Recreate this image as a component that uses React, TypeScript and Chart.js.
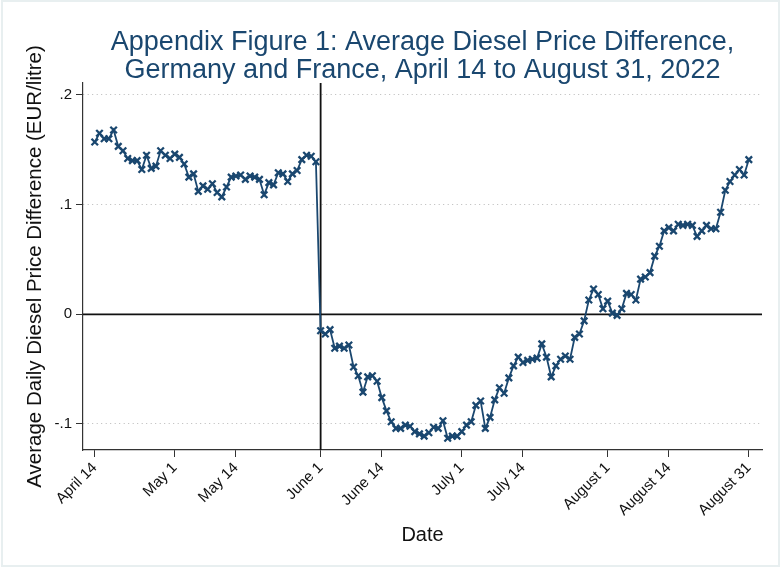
import React, { useEffect, useRef } from "react";
import { Chart, registerables } from "chart.js";

Chart.register(...registerables);

// Daily series starting April 14, 2022 (index 0) through August 31, 2022 (index 139)
const startDate = "April 14, 2022";
const priceDiff: number[] = [
  // April 14 - April 30
  0.157, 0.165, 0.160, 0.160, 0.168, 0.153, 0.149, 0.142, 0.140, 0.140,
  0.132, 0.145, 0.133, 0.135, 0.149, 0.145, 0.142,
  // May
  0.146, 0.143, 0.137, 0.125, 0.128, 0.112, 0.117, 0.114, 0.119, 0.111,
  0.107, 0.116, 0.125, 0.126, 0.127, 0.123, 0.126, 0.125, 0.123, 0.109,
  0.120, 0.118, 0.129, 0.128, 0.121, 0.128, 0.131, 0.141, 0.145, 0.144,
  0.139,
  // June
  -0.015, -0.018, -0.014, -0.031, -0.029, -0.031, -0.028, -0.048, -0.056, -0.071,
  -0.057, -0.056, -0.061, -0.076, -0.088, -0.098, -0.104, -0.104, -0.101, -0.102,
  -0.107, -0.109, -0.111, -0.108, -0.103, -0.104, -0.097, -0.113, -0.111, -0.111,
  // July
  -0.107, -0.101, -0.098, -0.083, -0.079, -0.104, -0.094, -0.078, -0.067, -0.072,
  -0.058, -0.047, -0.039, -0.044, -0.042, -0.041, -0.040, -0.027, -0.039, -0.057,
  -0.047, -0.041, -0.038, -0.041, -0.021, -0.018, -0.006, 0.013, 0.023, 0.018,
  0.005,
  // August
  0.012, 0.001, -0.001, 0.005, 0.019, 0.018, 0.013, 0.032, 0.034, 0.038,
  0.053, 0.062, 0.076, 0.079, 0.076, 0.082, 0.081, 0.082, 0.081, 0.071,
  0.076, 0.081, 0.078, 0.078, 0.093, 0.113, 0.121, 0.127, 0.132, 0.127,
  0.141,
];

const tickDays = [0, 17, 30, 48, 61, 78, 91, 109, 122, 139];
const tickLabels = [
  "April 14", "May 1", "May 14", "June 1", "June 14",
  "July 1", "July 14", "August 1", "August 14", "August 31",
];
const yTicks = [-0.1, 0, 0.1, 0.2];
const yTickLabels = ["-.1", "0", ".1", ".2"];
const policyDay = 48; // June 1
const titleLines = [
  "Appendix Figure 1: Average Diesel Price Difference,",
  "Germany and France, April 14 to August 31, 2022",
];
const yTitle = "Average Daily Diesel Price Difference (EUR/litre)";
const xTitle = "Date";

const NAVY = "#1a476f";
const FONT = "'Liberation Sans', Arial, sans-serif";

const refLinesPlugin = {
  id: "refLines",
  beforeDatasetsDraw(chart: any) {
    const { ctx, chartArea, scales } = chart;
    const y0 = scales.y.getPixelForValue(0);
    const xv = scales.x.getPixelForValue(policyDay);
    ctx.save();
    ctx.strokeStyle = "#111";
    ctx.lineWidth = 1.8;
    ctx.beginPath();
    ctx.moveTo(chartArea.left, y0);
    ctx.lineTo(chartArea.right, y0);
    ctx.moveTo(xv, chartArea.top);
    ctx.lineTo(xv, chartArea.bottom);
    ctx.stroke();
    ctx.restore();
  },
};

const titleFramePlugin = {
  id: "titleFrame",
  afterDraw(chart: any) {
    const { ctx, chartArea, width, height } = chart;
    ctx.save();
    ctx.strokeStyle = "#e8eff0";
    ctx.lineWidth = 2;
    ctx.strokeRect(2, 1, width - 3, height - 3);
    ctx.fillStyle = NAVY;
    ctx.font = `27px ${FONT}`;
    ctx.textAlign = "center";
    ctx.textBaseline = "alphabetic";
    const cx = (chartArea.left + chartArea.right) / 2;
    ctx.fillText(titleLines[0], cx, 50);
    ctx.fillText(titleLines[1], cx, 78);
    ctx.restore();
  },
};

export default function App() {
  const canvasRef = useRef<HTMLCanvasElement | null>(null);

  useEffect(() => {
    const canvas = canvasRef.current;
    if (!canvas) return;
    const points = priceDiff.map((v, i) => ({ x: i, y: v }));
    const chart = new Chart(canvas, {
      type: "line",
      data: {
        datasets: [
          {
            label: `Price difference since ${startDate}`,
            data: points,
            borderColor: NAVY,
            backgroundColor: NAVY,
            borderWidth: 1.8,
            pointStyle: "crossRot",
            pointRadius: 4.6,
            pointBorderWidth: 2.3,
            pointBorderColor: NAVY,
            tension: 0,
          },
        ],
      },
      options: {
        responsive: false,
        animation: false,
        events: [],
        layout: { padding: { left: 0, top: 83, right: 18, bottom: 0 } },
        plugins: {
          legend: { display: false },
          title: { display: false },
          tooltip: { enabled: false },
        },
        scales: {
          x: {
            type: "linear",
            min: -2.5,
            max: 141.8,
            afterBuildTicks: (s: any) => {
              s.ticks = tickDays.map((v) => ({ value: v }));
            },
            afterFit: (s: any) => {
              s.height = 118;
            },
            ticks: {
              autoSkip: false,
              minRotation: 45,
              maxRotation: 45,
              padding: 2,
              color: "#111",
              font: { family: FONT, size: 15 },
              callback: (v: any) => {
                const i = tickDays.indexOf(Number(v));
                return i >= 0 ? tickLabels[i] : "";
              },
            },
            grid: {
              drawOnChartArea: false,
              drawTicks: true,
              tickLength: 7,
              tickColor: "#333",
              color: "#333",
            },
            border: { display: true, color: "#333", width: 1.2 },
            title: {
              display: true,
              text: xTitle,
              color: "#111",
              font: { family: FONT, size: 20 },
              padding: { top: 0, bottom: 21 },
            },
          },
          y: {
            type: "linear",
            min: -0.1237,
            max: 0.2108,
            afterBuildTicks: (s: any) => {
              s.ticks = yTicks.map((v) => ({ value: v }));
            },
            afterFit: (s: any) => {
              s.width = 83;
            },
            ticks: {
              autoSkip: false,
              minRotation: 0,
              maxRotation: 0,
              padding: 4,
              color: "#111",
              font: { family: FONT, size: 15 },
              callback: (v: any) => {
                const i = yTicks.findIndex((t) => Math.abs(t - Number(v)) < 1e-9);
                return i >= 0 ? yTickLabels[i] : "";
              },
            },
            grid: {
              drawOnChartArea: true,
              drawTicks: true,
              tickLength: 7,
              lineWidth: 1,
              color: (ctx: any) =>
                ctx.tick && Math.abs(ctx.tick.value) < 1e-9 ? "rgba(0,0,0,0)" : "#b8b8b8",
              tickColor: "#333",
            },
            border: { display: true, color: "#333", width: 1.2, dash: [1, 3.5] },
            title: {
              display: true,
              text: yTitle,
              color: "#111",
              font: { family: FONT, size: 20.5 },
              padding: { top: 23, bottom: 0 },
            },
          },
        },
      },
      plugins: [refLinesPlugin, titleFramePlugin],
    } as any);
    return () => chart.destroy();
  }, []);

  return (
    <div style={{ position: "absolute", left: 0, top: 0, width: 780, height: 568, background: "#fff" }}>
      <canvas ref={canvasRef} width={780} height={568} style={{ display: "block" }} />
    </div>
  );
}
